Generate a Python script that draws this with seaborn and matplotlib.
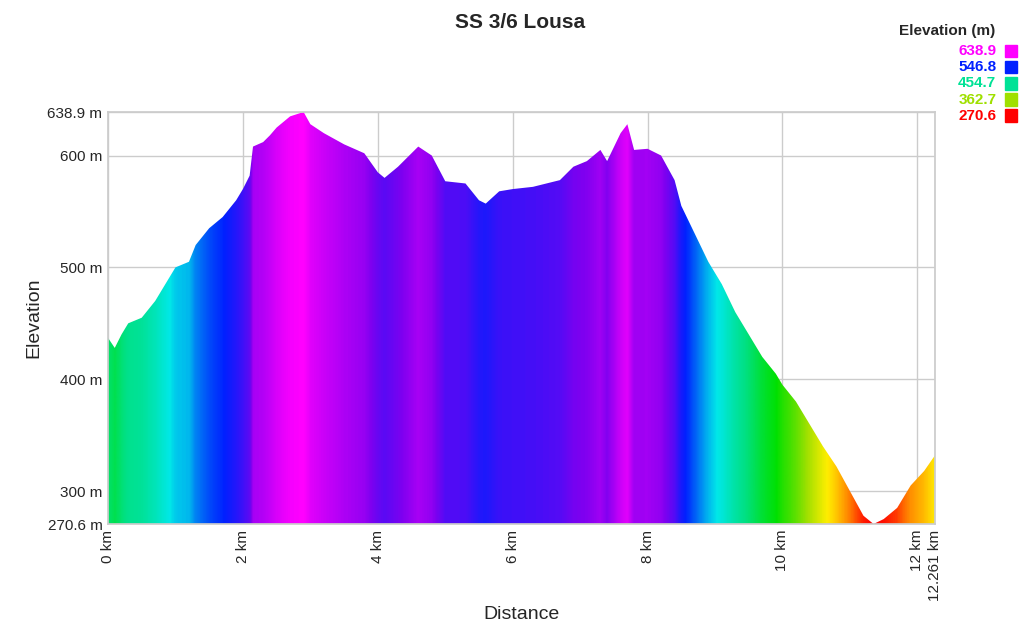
import numpy as np
import matplotlib
matplotlib.use("Agg")
import matplotlib.pyplot as plt
import seaborn as sns
from matplotlib.colors import LinearSegmentedColormap
from matplotlib.patches import Polygon

dist_km = [0, 0.1, 0.2, 0.3, 0.5, 0.7, 0.8, 1.0, 1.2, 1.3, 1.5, 1.7, 1.9, 2.0, 2.1, 2.15, 2.3, 2.4, 2.5,
           2.7, 2.9, 3.0, 3.2, 3.5, 3.8, 4.0, 4.1, 4.3, 4.5, 4.6, 4.8, 5.0, 5.3, 5.5, 5.6, 5.8, 6.0,
           6.3, 6.5, 6.7, 6.9, 7.1, 7.3, 7.4, 7.6, 7.7, 7.8, 8.0, 8.2, 8.4, 8.5, 8.7, 8.9, 9.1, 9.3,
           9.5, 9.7, 9.9, 10.0, 10.2, 10.4, 10.6, 10.8, 11.0, 11.2, 11.35, 11.5, 11.7, 11.9, 12.1, 12.261]
elev_m = [437, 428, 440, 450, 455, 470, 480, 500, 505, 520, 535, 545, 560, 570, 582, 608, 612, 618, 625,
          635, 638.9, 628, 620, 610, 602, 585, 580, 590, 602, 608, 600, 577, 575, 560, 557, 568, 570,
          572, 575, 578, 590, 595, 605, 595, 620, 628, 605, 606, 600, 578, 555, 530, 505, 485, 460,
          440, 420, 405, 395, 380, 360, 340, 322, 300, 278, 270.6, 275, 285, 305, 318, 332]
legend_vals = [638.9, 546.8, 454.7, 362.7, 270.6]
ymin, ymax = 270.6, 638.9
xmax = 12.261

cmap = LinearSegmentedColormap.from_list("elev", [
    (0.0, "#ff0000"), (0.08, "#ff8000"), (0.17, "#ffee00"), (0.25, "#a0e000"),
    (0.36, "#00e000"), (0.47, "#00e080"), (0.6, "#00e8e8"), (0.75, "#0020ff"),
    (0.88, "#8000f0"), (1.0, "#ff00ff")])

sns.set_theme(style="white")
plt.rcParams['font.family'] = ['Liberation Sans', 'DejaVu Sans']
fig = plt.figure(figsize=(10.24, 6.36), dpi=100)
ax = fig.add_axes([108/1024, 1-524/636, (935-108)/1024, (524-112)/636])

xs = np.linspace(0, xmax, 1200)
vals = np.interp(xs, dist_km, elev_m)
im = ax.imshow(vals[np.newaxis, :], aspect='auto', cmap=cmap, vmin=ymin, vmax=ymax,
               extent=[0, xmax, ymin, ymax], origin='lower', zorder=2)
poly = Polygon(list(zip(dist_km, elev_m)) + [(xmax, ymin), (0, ymin)], closed=True,
               transform=ax.transData, facecolor='none', edgecolor='none')
ax.add_patch(poly)
im.set_clip_path(poly)

ax.set_xlim(0, xmax)
ax.set_ylim(ymin, ymax)
xt = [0, 2, 4, 6, 8, 10, 12, xmax]
ax.set_xticks(xt)
ax.set_xticklabels([f"{t:g} km" for t in xt], rotation=90, fontsize=11)
yt = [ymin, 300, 400, 500, 600, ymax]
ax.set_yticks(yt)
ax.set_yticklabels([f"{t:g} m" for t in yt], fontsize=11)
ax.grid(True, color="#cccccc", linewidth=1, zorder=0)
ax.set_axisbelow(True)
for s in ax.spines.values():
    s.set_color("#cccccc")
ax.tick_params(length=0, pad=4)
ax.set_xlabel("Distance", fontsize=14)
ax.set_ylabel("Elevation", fontsize=14)
fig.text(0.508, 0.965, "SS 3/6 Lousa", ha='center', va='center', fontsize=15, fontweight='bold')

fig.text(0.972, 0.951, "Elevation (m)", ha='right', va='center', fontsize=11, fontweight='bold')
for i, v in enumerate(legend_vals):
    y = 0.920 - i * 0.0255
    fig.text(0.973, y, f"{v}", ha='right', va='center', fontsize=11, fontweight='bold',
             color=cmap((v - ymin) / (ymax - ymin)))
    fig.patches.append(plt.Rectangle((0.981, y - 0.01), 0.012, 0.02, transform=fig.transFigure,
                                     color=cmap((v - ymin) / (ymax - ymin))))
fig.savefig("out.png", dpi=100)
